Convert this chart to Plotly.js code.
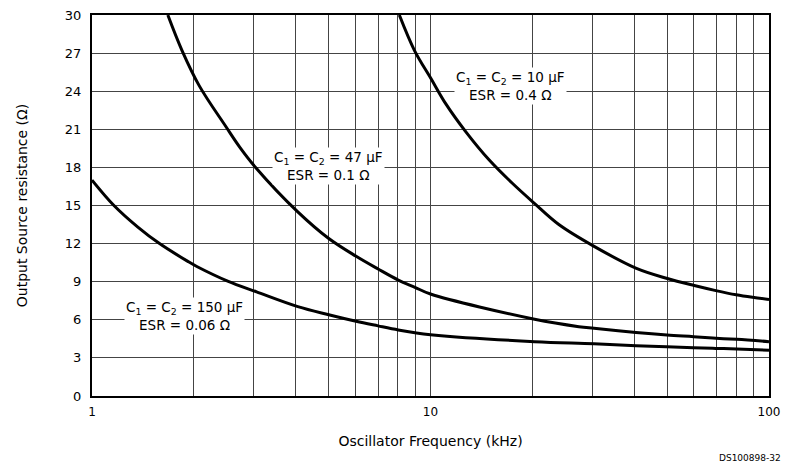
<!DOCTYPE html>
<html>
<head>
<meta charset="utf-8">
<script src="https://cdn.plot.ly/plotly-3.0.1.min.js"></script>
<style>html,body{margin:0;padding:0;background:#fff;}#chart{width:785px;height:466px;}</style>
</head>
<body>
<div id="chart"></div>
<script>
// Frequency (kHz) and output source resistance (Ohm) for each capacitor set
const f10 = [8.09, 8.97, 10.03, 11.1, 12.72, 14.89, 17.45, 20.31, 23.94, 30.43, 40.58, 50.08, 60.15, 69.66, 79.98, 89.35, 100];
const r10 = [30, 27.2, 25.0, 23.0, 20.8, 18.6, 16.75, 15.15, 13.5, 11.78, 10.05, 9.25, 8.7, 8.3, 7.97, 7.77, 7.6];

const f47 = [1.675, 1.845, 2.077, 2.488, 2.731, 3.043, 4.055, 5.006, 6.03, 7.0, 8.03, 8.995, 10, 20.31, 27.44, 30.4, 40.47, 49.94, 59.85, 69.66, 80.3, 100];
const r47 = [30, 27.2, 24.4, 21.2, 19.6, 18.0, 14.5, 12.4, 11.0, 10.0, 9.13, 8.56, 8.03, 6.04, 5.46, 5.33, 5.0, 4.8, 4.67, 4.55, 4.46, 4.28];

const f150 = [1, 1.161, 1.366, 1.583, 1.919, 2.04, 2.516, 3.064, 4.055, 5.006, 6.03, 7.0, 8.03, 9.0, 10, 20.31, 30.4, 40.47, 49.94, 59.85, 69.66, 80.3, 100];
const r150 = [17.0, 15.0, 13.3, 12.0, 10.6, 10.2, 9.05, 8.2, 7.04, 6.4, 5.88, 5.52, 5.2, 4.98, 4.83, 4.28, 4.12, 3.96, 3.88, 3.8, 3.75, 3.7, 3.6];

const xTickVals = [1, 10, 100];
const yTickVals = [0, 3, 6, 9, 12, 15, 18, 21, 24, 27, 30];

const labels = [
  {x: 17.2, y: 24.4, text: "C<sub>1</sub> = C<sub>2</sub> = 10 μF<br>ESR = 0.4 Ω"},
  {x: 5.0, y: 18.1, text: "C<sub>1</sub> = C<sub>2</sub> = 47 μF<br>ESR = 0.1 Ω"},
  {x: 1.88, y: 6.3, text: "C<sub>1</sub> = C<sub>2</sub> = 150 μF<br>ESR = 0.06 Ω"}
];

const lineStyle = {color: "#000", width: 3, shape: "spline", smoothing: 1};
const traces = [
  {x: f10, y: r10, mode: "lines", line: lineStyle, name: "10 µF", hoverinfo: "skip"},
  {x: f47, y: r47, mode: "lines", line: lineStyle, name: "47 µF", hoverinfo: "skip"},
  {x: f150, y: r150, mode: "lines", line: lineStyle, name: "150 µF", hoverinfo: "skip"}
];

const fam = "DejaVu Sans, Liberation Sans, sans-serif";
const font = {family: fam, size: 13, color: "#000"};

const annotations = labels.map(l => ({
  x: Math.log10(l.x), y: l.y, xref: "x", yref: "y", text: l.text,
  showarrow: false, bgcolor: "#fff", borderpad: 1, align: "center",
  font: {family: fam, size: 13.5, color: "#000"}
}));
annotations.push({
  xref: "paper", yref: "paper", x: 1.021, y: -0.181, xanchor: "right", yanchor: "bottom",
  text: "DS100898-32", showarrow: false, font: {family: fam, size: 9, color: "#000"}
});

const layout = {
  width: 785, height: 466,
  margin: {l: 92, r: 16, t: 15, b: 70},
  paper_bgcolor: "#fff", plot_bgcolor: "#fff",
  showlegend: false,
  font: font,
  xaxis: {
    type: "log", range: [0, 2],
    tickmode: "array", tickvals: xTickVals,
    tickfont: {family: fam, size: 12, color: "#000"},
    showgrid: true, gridcolor: "#444", gridwidth: 1,
    minor: {dtick: "D1", showgrid: true, gridcolor: "#444", gridwidth: 1, ticks: ""},
    showline: true, linecolor: "#000", linewidth: 2, mirror: true,
    ticks: "", ticklabelstandoff: 4, zeroline: false,
    title: {text: "Oscillator Frequency (kHz)", font: {family: fam, size: 14, color: "#000"}, standoff: 18}
  },
  yaxis: {
    range: [0, 30],
    tickmode: "array", tickvals: yTickVals,
    tickfont: {family: fam, size: 13, color: "#000"},
    showgrid: true, gridcolor: "#444", gridwidth: 1,
    showline: true, linecolor: "#000", linewidth: 2, mirror: true,
    ticks: "", ticklabelstandoff: 6, zeroline: false,
    title: {text: "Output Source resistance (Ω)", font: {family: fam, size: 14, color: "#000"}, standoff: 34}
  },
  annotations: annotations
};

Plotly.newPlot("chart", traces, layout, {staticPlot: true, displayModeBar: false});
</script>
</body>
</html>
